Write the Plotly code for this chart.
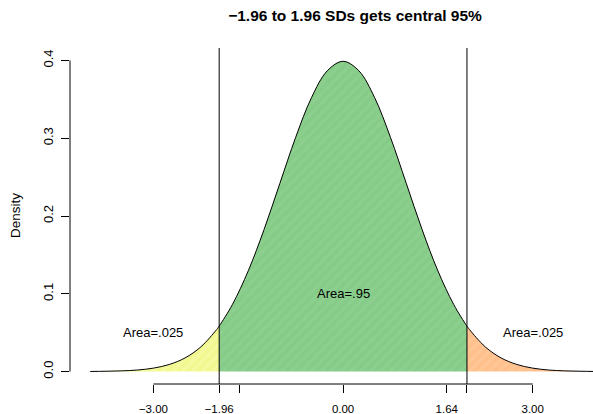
import plotly.graph_objects as go

# Standard normal density
x_vals = [-4.0, -3.75, -3.5, -3.25, -3.0, -2.75, -2.5, -2.25, -2.0, -1.96,
          -1.75, -1.5, -1.25, -1.0, -0.75, -0.5, -0.25, 0.0,
          0.25, 0.5, 0.75, 1.0, 1.25, 1.5, 1.75, 1.96, 2.0,
          2.25, 2.5, 2.75, 3.0, 3.25, 3.5, 3.75, 4.0]
density = [0.0001, 0.0004, 0.0009, 0.0020, 0.0044, 0.0091, 0.0175, 0.0317, 0.0540, 0.0584,
           0.0863, 0.1295, 0.1826, 0.2420, 0.3011, 0.3521, 0.3867, 0.3989,
           0.3867, 0.3521, 0.3011, 0.2420, 0.1826, 0.1295, 0.0863, 0.0584, 0.0540,
           0.0317, 0.0175, 0.0091, 0.0044, 0.0020, 0.0009, 0.0004, 0.0001]

cutoffs = [-1.96, 1.96]
x_tick_vals = [-3.0, -1.96, -1.64, 0.0, 1.64, 1.96, 3.0]
x_tick_text = ["\u22123.00", "\u22121.96", "", "0.00", "1.64", "", "3.00"]
y_tick_vals = [0.0, 0.1, 0.2, 0.3, 0.4]
y_tick_text = ["0.0", "0.1", "0.2", "0.3", "0.4"]
area_labels = ["Area=.025", "Area=.95", "Area=.025"]
area_x = [-3.0, 0.0, 3.0]
area_y = [0.05, 0.10, 0.05]
title_text = "\u22121.96 to 1.96 SDs gets central 95%"

FONT = "Liberation Sans, Arial, Helvetica, sans-serif"

lo, hi = cutoffs
segs = [
    ([x for x in x_vals if x <= lo], [d for x, d in zip(x_vals, density) if x <= lo], "#F2F890", "#F7FBB0"),
    ([x for x in x_vals if lo <= x <= hi], [d for x, d in zip(x_vals, density) if lo <= x <= hi], "#86CC88", "#92D294"),
    ([x for x in x_vals if x >= hi], [d for x, d in zip(x_vals, density) if x >= hi], "#FFC08C", "#FFCCA0"),
]

fig = go.Figure()
for xs, ys, bg, fg in segs:
    fig.add_trace(go.Scatter(
        x=xs, y=ys, mode="lines", line=dict(width=0, shape="spline", smoothing=1),
        fill="tozeroy", fillcolor=bg,
        fillpattern=dict(shape="/", bgcolor=bg, fgcolor=fg, size=7, solidity=0.45),
        hoverinfo="skip", showlegend=False))

fig.add_trace(go.Scatter(
    x=x_vals, y=density, mode="lines",
    line=dict(color="black", width=1, shape="spline", smoothing=1),
    showlegend=False))

shapes = []
for c in cutoffs:
    shapes.append(dict(type="line", xref="x", yref="paper", x0=c, x1=c, y0=0, y1=1,
                       line=dict(color="black", width=1)))
# R-style axis lines spanning first to last tick
shapes.append(dict(type="line", xref="x", yref="paper", x0=x_tick_vals[0], x1=x_tick_vals[-1],
                   y0=0, y1=0, line=dict(color="black", width=1)))
shapes.append(dict(type="line", xref="paper", yref="y", x0=0, x1=0,
                   y0=y_tick_vals[0], y1=y_tick_vals[-1], line=dict(color="black", width=1)))

annotations = []
for t, ax, ay in zip(area_labels, area_x, area_y):
    annotations.append(dict(text=t, x=ax, y=ay, xref="x", yref="y", showarrow=False,
                            font=dict(family=FONT, size=13, color="black"),
                            xanchor="center", yanchor="middle"))
annotations.append(dict(text="Density", x=-0.105, y=0.2, xref="paper", yref="y",
                        showarrow=False, textangle=-90,
                        font=dict(family=FONT, size=13.5, color="black"),
                        xanchor="center", yanchor="middle"))

fig.update_layout(
    width=593, height=414,
    margin=dict(l=70, r=0, t=48, b=30, autoexpand=False),
    paper_bgcolor="white", plot_bgcolor="white",
    title=dict(text="<b>" + title_text + "</b>", x=0.545, xref="paper", xanchor="center",
               y=1 - 16 / 414, yref="container", yanchor="middle",
               font=dict(family=FONT, size=15.5, color="black")),
    shapes=shapes, annotations=annotations,
    xaxis=dict(range=[-4.32, 3.954], showgrid=False, zeroline=False, showline=False,
               tickmode="array", tickvals=x_tick_vals, ticktext=x_tick_text,
               ticks="outside", ticklen=8, tickwidth=1, tickcolor="black",
               ticklabelstandoff=6,
               tickfont=dict(family=FONT, size=11.5, color="black"), automargin=False),
    yaxis=dict(range=[-0.016, 0.416], showgrid=False, zeroline=False, showline=False,
               tickmode="array", tickvals=y_tick_vals, ticktext=y_tick_text,
               ticks="outside", ticklen=8, tickwidth=1, tickcolor="black",
               tickangle=-90, ticklabelstandoff=3,
               tickfont=dict(family=FONT, size=13, color="black"), automargin=False),
)

fig.write_html("out.html")
